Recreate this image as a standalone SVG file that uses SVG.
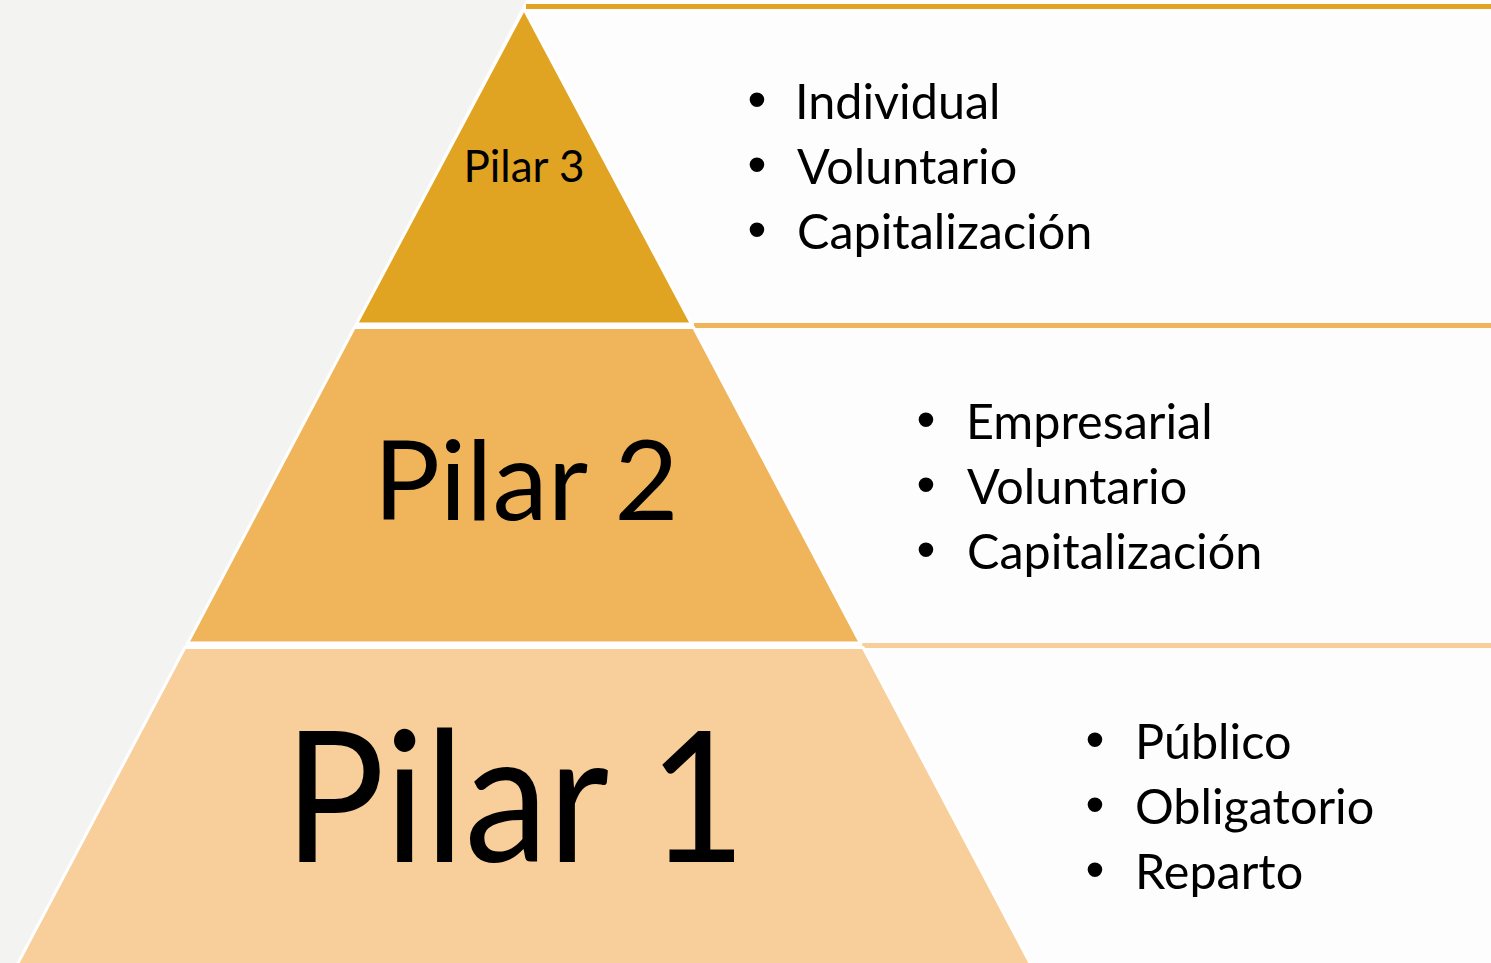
<svg xmlns="http://www.w3.org/2000/svg" width="1491" height="963" viewBox="0 0 1491 963">
<style>
.tier{stroke:#ffffff;stroke-width:3;stroke-linejoin:miter}
.t1{fill:#E0A422}.t2{fill:#F0B55B}.t3{fill:#F8CE9A}
.lbl{font-family:Lato,"Open Sans","Liberation Sans",sans-serif;fill:#000;text-anchor:middle}
.item{font-family:Lato,"Open Sans","Liberation Sans",sans-serif;font-size:48.5px;fill:#000}
.bul{font-family:"Liberation Sans",Arial,sans-serif;font-size:54px;fill:#000;text-anchor:middle}
.band{fill:none;stroke-width:5}
</style>
<rect x="0" y="0" width="1491" height="963" fill="#fdfdfd"/>
<polygon points="0,0 526,0 18,963 0,963" fill="#f3f3f1"/>
<g id="connectors">
<line class="band" x1="526" y1="6.5" x2="1491" y2="6.5" stroke="#E0A422"/>
<line class="band" x1="694" y1="325.5" x2="1491" y2="325.5" stroke="#F0B55B"/>
<line class="band" x1="862" y1="645.5" x2="1491" y2="645.5" stroke="#F8CE9A"/>
</g>
<g id="pilar3">
<polygon class="tier t1" points="524,9 356.4,324 691.6,324"/>
<text class="lbl" x="524" y="182" font-size="44">Pilar 3</text>
</g>
<g id="pilar2">
<polygon class="tier t2" points="354.3,327.5 187.6,643 860.4,643 693.7,327.5"/>
<text class="lbl" x="526" y="520" font-size="111">Pilar 2</text>
</g>
<g id="pilar1">
<polygon class="tier t3" points="184.9,647.5 16.4,966 1031.6,966 863.1,647.5"/>
<text class="lbl" x="515" y="862" font-size="183" textLength="462" lengthAdjust="spacingAndGlyphs">Pilar 1</text>
</g>
<g id="list3">
<text class="bul" x="757" y="118">•</text>
<text class="bul" x="757" y="183">•</text>
<text class="bul" x="757" y="248">•</text>
<text class="item" x="795" y="119">Individual</text>
<text class="item" x="797" y="184">Voluntario</text>
<text class="item" x="797" y="249">Capitalización</text>
</g>
<g id="list2">
<text class="bul" x="926" y="438">•</text>
<text class="bul" x="926" y="503">•</text>
<text class="bul" x="926" y="568">•</text>
<text class="item" x="966" y="439">Empresarial</text>
<text class="item" x="967" y="504">Voluntario</text>
<text class="item" x="967" y="569">Capitalización</text>
</g>
<g id="list1">
<text class="bul" x="1095" y="758">•</text>
<text class="bul" x="1095" y="823">•</text>
<text class="bul" x="1095" y="888">•</text>
<text class="item" x="1135" y="759">Público</text>
<text class="item" x="1135" y="824">Obligatorio</text>
<text class="item" x="1135" y="889">Reparto</text>
</g>
</svg>
